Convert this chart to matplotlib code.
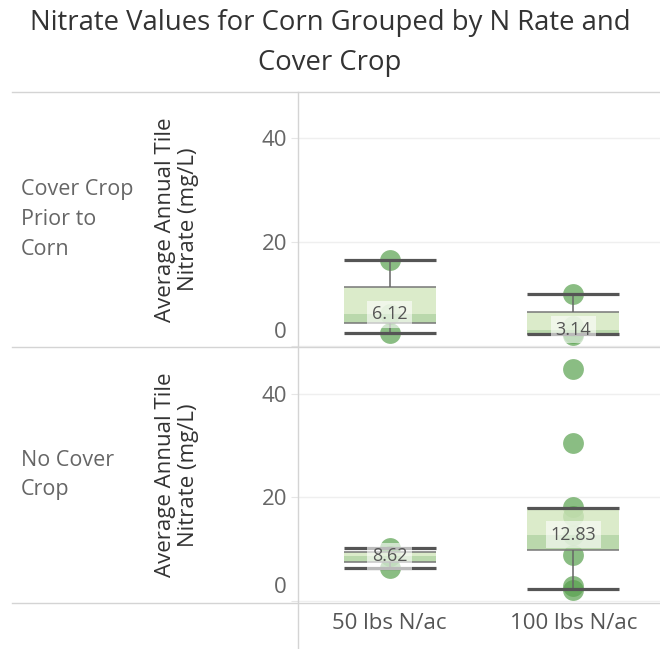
import matplotlib
matplotlib.use("Agg")
import matplotlib.pyplot as plt
import matplotlib.transforms as mtrans
from matplotlib.lines import Line2D
from matplotlib.patches import Rectangle

plt.rcParams['font.family'] = ['Open Sans', 'DejaVu Sans']

# data
rows = ["Cover Crop\nPrior to\nCorn", "No Cover\nCrop"]
rates = ["50 lbs N/ac", "100 lbs N/ac"]

# individual points per (row, rate)
points = [
    [[2.4, 6.12, 16.5], [2.1, 2.5, 3.9, 9.9]],
    [[6.4, 8.62, 10.2], [2.2, 2.8, 8.8, 12.83, 16.5, 18.2, 30.6, 44.8]],
]
# box plot stats (whisker low, Q1, median, Q3, whisker high)
whisker_lo = [[2.4, 2.3], [6.3, 2.4]]
q1 = [[4.4, 2.3], [7.5, 9.9]]
median = [[6.12, 3.14], [8.62, 12.83]]
q3 = [[11.4, 6.6], [9.5, 17.9]]
whisker_hi = [[16.5, 9.9], [10.3, 17.9]]

W, H = 660, 649
fig = plt.figure(figsize=(W / 100, H / 100), dpi=100)


def rect(x0, y0, x1, y1):
    return [x0 / W, 1 - y1 / H, (x1 - x0) / W, (y1 - y0) / H]


def hline(y, x0, x1, color="#d4d4d4", lw=1.0):
    fig.add_artist(Line2D([x0 / W, x1 / W], [1 - y / H, 1 - y / H],
                          transform=fig.transFigure, color=color, lw=lw))


def vline(x, y0, y1, color="#d4d4d4", lw=1.0):
    fig.add_artist(Line2D([x / W, x / W], [1 - y0 / H, 1 - y1 / H],
                          transform=fig.transFigure, color=color, lw=lw))


fig.text(0.5, 1 - 43 / H, "Nitrate Values for Corn Grouped by N Rate and\nCover Crop",
         ha="center", va="center", fontsize=19.8, color="#333333", linespacing=1.55)

panels = [(92, 347), (348, 602)]
light = "#d2e7bd"
dark = "#a9cf98"
pt_color = "#59a14f"

for r, (top, bot) in enumerate(panels):
    ax = fig.add_axes(rect(298, top, 665, bot))
    ax.set_xlim(-0.5, 1.5)
    ax.set_ylim(-0.2, 48.85)
    for s in ax.spines.values():
        s.set_visible(False)
    ax.set_yticks([0, 20, 40])
    ax.set_yticklabels(["0", "20", "40"])
    ax.tick_params(axis="y", length=5, color="#e6e6e6", labelsize=16,
                   labelcolor="#666666", pad=3)
    # the 0 label sits a bit above the axis bottom
    lab0 = ax.get_yticklabels()[0]
    lab0.set_transform(lab0.get_transform() +
                       mtrans.ScaledTranslation(0, 16 / 100, fig.dpi_scale_trans))
    ax.grid(axis="y", color="#efefef", lw=1)
    ax.set_axisbelow(True)
    if r == 1:
        ax.set_xticks([0, 1])
        ax.set_xticklabels(rates)
        ax.tick_params(axis="x", length=0, labelsize=16, labelcolor="#555555", pad=8)
    else:
        ax.set_xticks([])

    for c in range(2):
        ys = points[r][c]
        ax.plot([c] * len(ys), ys, "o", ms=15, color=pt_color, alpha=0.7,
                mec="none", zorder=2)
        hw = 0.25
        ax.add_patch(Rectangle((c - hw, q1[r][c]), 2 * hw, median[r][c] - q1[r][c],
                               facecolor=dark, alpha=0.8, lw=0, zorder=3))
        ax.add_patch(Rectangle((c - hw, median[r][c]), 2 * hw, q3[r][c] - median[r][c],
                               facecolor=light, alpha=0.8, lw=0, zorder=3))
        ax.hlines([q1[r][c], q3[r][c]], c - hw, c + hw, color="#777777", lw=1.1, zorder=4)
        ax.vlines(c, q3[r][c], whisker_hi[r][c], color="#666666", lw=1.1, zorder=4)
        ax.vlines(c, whisker_lo[r][c], q1[r][c], color="#666666", lw=1.1, zorder=4)
        ax.hlines([whisker_lo[r][c], whisker_hi[r][c]], c - hw, c + hw,
                  color="#555555", lw=2.3, zorder=4)
        ax.text(c, median[r][c], f"{median[r][c]:.2f}", ha="center", va="center",
                fontsize=13, color="#555555", zorder=5,
                bbox=dict(boxstyle="square,pad=0.25", fc="white", ec="none", alpha=0.6))

    cy = 1 - (top + bot) / 2 / H
    fig.text(21 / W, cy, rows[r], ha="left", va="center", fontsize=15.5,
             color="#666666", linespacing=1.55)
    fig.text(177 / W, cy, "Average Annual Tile\nNitrate (mg/L)", ha="center",
             va="center", rotation=90, fontsize=16, color="#333333", linespacing=1.12)

hline(92, 12, 660)
hline(347.5, 12, 660)
hline(602.5, 12, 660)
vline(298, 92, 649)

fig.savefig("out.png", dpi=100)
